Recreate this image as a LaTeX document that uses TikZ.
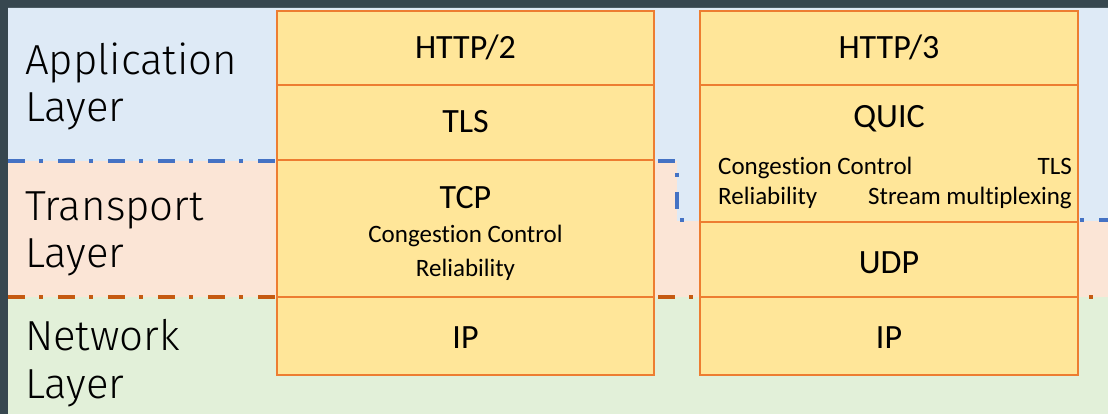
\documentclass[tikz,border=0pt]{standalone}
\usepackage{fontspec}
\setmainfont{Carlito}[RawFeature={-liga;-clig;-dlig}]
\newfontfamily\labelfont{Fira Sans Light}
\definecolor{frame}{HTML}{37474F}
\definecolor{appbg}{HTML}{DEEAF6}
\definecolor{trbg}{HTML}{FBE5D6}
\definecolor{netbg}{HTML}{E2F0D9}
\definecolor{boxfill}{HTML}{FFE699}
\definecolor{boxline}{HTML}{ED7D31}
\definecolor{appline}{HTML}{4472C4}
\definecolor{trline}{HTML}{C55A11}
\begin{document}
\begin{tikzpicture}[x=1pt,y=-1pt,
  layerrow/.style={draw=boxline,fill=boxfill,line width=2.5pt,inner sep=0pt,
    minimum width=#1},
  layerrow/.default=377,
  boundary/.style={line width=4pt,dash pattern=on 17pt off 14pt on 4pt off 15pt},
  layername/.style={anchor=base west,inner sep=0pt,font=\labelfont\fontsize{42}{47}\selectfont,
    align=left},
  proto/.style={anchor=base,inner sep=0pt,font=\fontsize{34}{40}\selectfont},
  feature/.style={inner sep=0pt,font=\fontsize{25}{30}\selectfont}]
\useasboundingbox (0,0) rectangle (1108,414);

% backdrop and the three layer bands
\fill[frame] (0,0) rectangle (1108,414);
\fill[netbg] (8,297) rectangle (1108,414);
\fill[trbg] (8,161) rectangle (1108,297);
\fill[appbg] (8,8) -- (1108,8) -- (1108,221) -- (677,221) -- (677,161) -- (8,161) -- cycle;

% layer boundaries
\draw[boundary,appline] (8,161) -- (677,161) -- (677,220) -- (1108,220);
\draw[boundary,trline] (8,297) -- (1108,297);

% layer names
\node[layername] (app1) at (25,75) {Application};
\node[layername] (app2) at (25,122) {Layer};
\node[layername] (tr1) at (25,220) {Transport};
\node[layername] (tr2) at (25,267) {Layer};
\node[layername] (net1) at (25,350) {Network};
\node[layername] (net2) at (25,398) {Layer};

% HTTP/2 stack
\node[layerrow,minimum height=74] (h2) at (465.5,48) {};
\node[layerrow,minimum height=75] (tls) at (465.5,122.5) {};
\node[layerrow,minimum height=137] (tcp) at (465.5,228.5) {};
\node[layerrow,minimum height=78] (ip2) at (465.5,336) {};
\node[proto] (h2t) at (465.5,59) {HTTP/2};
\node[proto] (tlst) at (465.5,133) {TLS};
\node[proto] (tcpt) at (465.5,209) {TCP};
\node[feature,anchor=base] (tcpcc) at (465.5,243) {Congestion Control};
\node[feature,anchor=base] (tcprel) at (465.5,276) {Reliability};
\node[proto] (ip2t) at (465.5,348) {IP};

% HTTP/3 stack
\node[layerrow=378,minimum height=74] (h3) at (889,48) {};
\node[layerrow=378,minimum height=137] (quic) at (889,153.5) {};
\node[layerrow=378,minimum height=75] (udp) at (889,259.5) {};
\node[layerrow=378,minimum height=78] (ip3) at (889,336) {};
\node[proto] (h3t) at (889,59) {HTTP/3};
\node[proto] (quict) at (889,128) {QUIC};
\node[feature,anchor=base west] (qcc) at (718,175) {Congestion Control};
\node[feature,anchor=base west] (qrel) at (718,205) {Reliability};
\node[feature,anchor=base east] (qtls) at (1072,175) {TLS};
\node[feature,anchor=base east] (qsm) at (1072,205) {Stream multiplexing};
\node[proto] (udpt) at (889,273) {UDP};
\node[proto] (ip3t) at (889,348) {IP};
\end{tikzpicture}
\end{document}
